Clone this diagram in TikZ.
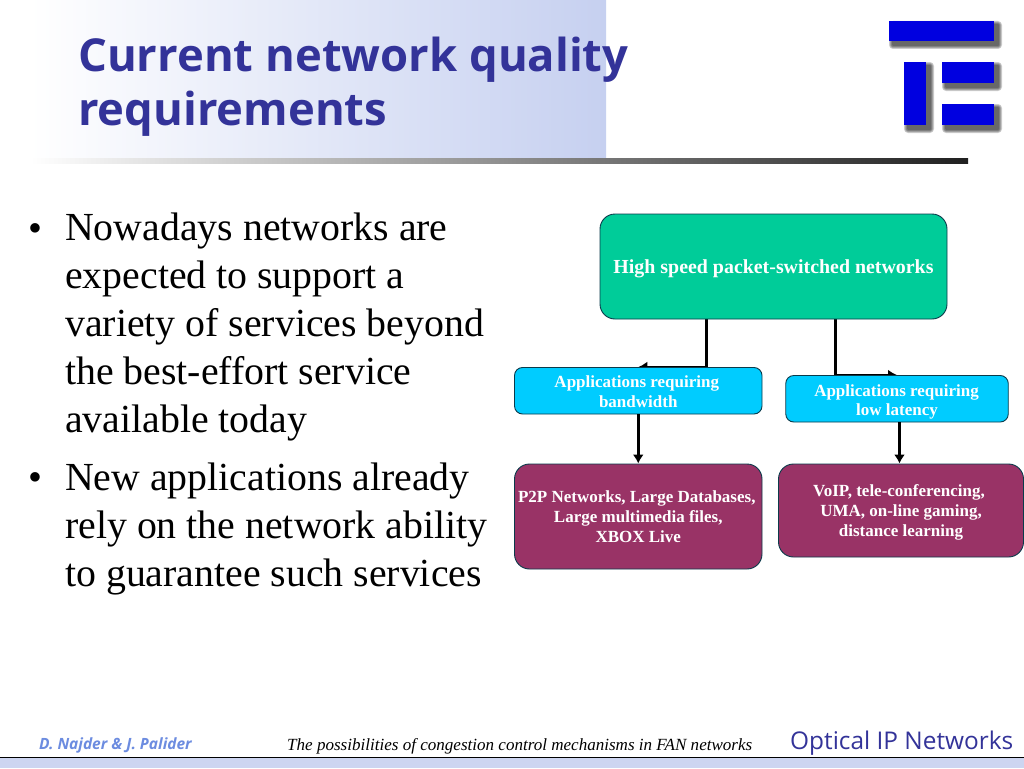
\documentclass[tikz,border=0pt]{standalone}
\usepackage{fontspec}
\setmainfont{Liberation Serif}
\newfontfamily\headfont{Open Sans}
\usetikzlibrary{backgrounds,arrows.meta}
\definecolor{titleblue}{HTML}{333399}
\definecolor{bandblue}{HTML}{C6D0F0}
\definecolor{footblue}{HTML}{CDD5F1}
\definecolor{authorblue}{HTML}{6C8CE0}
\definecolor{logoblue}{HTML}{0000E0}
\definecolor{topgreen}{HTML}{00CC99}
\definecolor{appcyan}{HTML}{00CCFF}
\definecolor{usepurple}{HTML}{993366}
\definecolor{edgedark}{HTML}{0B3B4B}
\definecolor{rulemid}{HTML}{C8C8C8}
\definecolor{ruleend}{HTML}{202020}
\tikzset{
  x=1pt,y=-1pt,
  box/.style={draw=edgedark,line width=0.9pt,text=white,align=center,inner sep=0pt,font=\fontsize{17}{19.8}\selectfont\bfseries},
  topbox/.style={box,fill=topgreen,rounded corners=15pt,minimum width=347pt,minimum height=105pt,font=\fontsize{19.9}{23}\selectfont\bfseries},
  appbox/.style={box,fill=appcyan,rounded corners=8pt,minimum height=46.5pt},
  usebox/.style={box,fill=usepurple,rounded corners=15pt},
  link/.style={draw=black,line width=3pt},
  linkarrow/.style={link,-{Latex[length=9pt,width=11pt]}},
  bodytext/.style={anchor=base west,inner sep=0pt,align=left,font=\fontsize{39.8}{47.9}\selectfont},
  bullettext/.style={anchor=base west,inner sep=0pt,font=\fontsize{39.8}{44}\selectfont},
  logobar/.style={fill=logoblue,draw=none},
}
\newcommand{\dn}[1]{\rule{0pt}{#1pt}}
\newcommand{\pad}[1]{\rule{#1pt}{0pt}}
\newcommand{\logobar}[4]{%
  \foreach \g in {4,3,2,1}{
    \fill[black,opacity=0.2,rounded corners=\g pt] (#1+4-\g,#2+4-\g) rectangle (#3+4+\g,#4+4+\g);
  }
  \fill[logobar] (#1,#2) rectangle (#3,#4);
}
\begin{document}
\begin{tikzpicture}
\useasboundingbox (0,0) rectangle (1024,768);
\begin{pgfonlayer}{background}
\fill[white] (0,0) rectangle (1024,768);
% header band
\shade[left color=white,right color=bandblue] (30,0) rectangle (606,158);
\shade[left color=white,middle color=rulemid,right color=ruleend] (30,158) rectangle (968,163);
\end{pgfonlayer}
% footer
\fill[footblue] (0,757) rectangle (1024,768);
\draw[black,line width=1pt] (0,757) -- (1024,757);
% logo
\logobar{889}{21}{994}{41}
\logobar{904}{62}{926}{125}
\logobar{942}{62}{994}{83}
\logobar{942}{104}{994}{125}
% title
\node[anchor=base west,inner sep=0pt,align=left,text=titleblue,font=\headfont\fontsize{45.4}{54}\selectfont\bfseries] (title) at (78,125) {Current network quality\\requirements};
% body
\node[bullettext] (b1) at (28,241) {•};
\node[bodytext] (p1) at (65,432) {Nowadays networks are\\expected to support a\\variety of services beyond\\the best-effort service\\available today};
\node[bullettext] (b2) at (28,490) {•};
\node[bodytext] (p2) at (65,586) {New applications already\\rely on the network ability\\to guarantee such services};
% boxes
\node[topbox] (top) at (773.5,266.5) {\dn{18}High speed packet-switched networks};
\node[appbox,minimum width=247.5pt] (bw) at (638.25,390.75) {\dn{13}Applications requiring\pad{3}\\bandwidth};
\node[appbox,minimum width=222.5pt] (ll) at (897,398.75) {\dn{18}Applications requiring\pad{1}\\low latency};
\node[usebox,minimum width=247.5pt,minimum height=105pt] (p2p) at (638.25,516.5) {P2P Networks, Large Databases,\pad{3}\\Large multimedia files,\\XBOX Live};
\node[usebox,minimum width=245pt,minimum height=93pt] (voip) at (901,510.5) {\dn{16}VoIP, tele-conferencing,\pad{4}\\UMA, on-line gaming,\\distance learning};
% connectors
\coordinate (tl) at (706,320);
\coordinate (tr) at (835.5,320);
\begin{pgfonlayer}{background}
\draw[linkarrow] (tl |- top.south) -- (tl |- bw.north) -- (bw.north);
\draw[linkarrow] (tr |- top.south) -- (tr |- ll.north) -- (ll.north);
\end{pgfonlayer}
\draw[linkarrow] (bw.south) -- (p2p.north);
\coordinate (vx) at (899.5,440);
\draw[linkarrow] (ll.south -| vx) -- (voip.north -| vx);
% footer text
\node[anchor=base west,inner sep=0pt,text=authorblue,font=\headfont\fontsize{15.5}{18}\selectfont\bfseries\itshape] (auth) at (39,749) {D. Najder \& J. Palider};
\node[anchor=base west,inner sep=0pt,font=\fontsize{17.05}{19}\selectfont\itshape] (talk) at (287,750) {The possibilities of congestion control mechanisms in FAN networks};
\node[anchor=base west,inner sep=0pt,text=titleblue,font=\headfont\fontsize{24.4}{28}\selectfont] (opt) at (790,749) {Optical IP Networks};
\end{tikzpicture}
\end{document}
